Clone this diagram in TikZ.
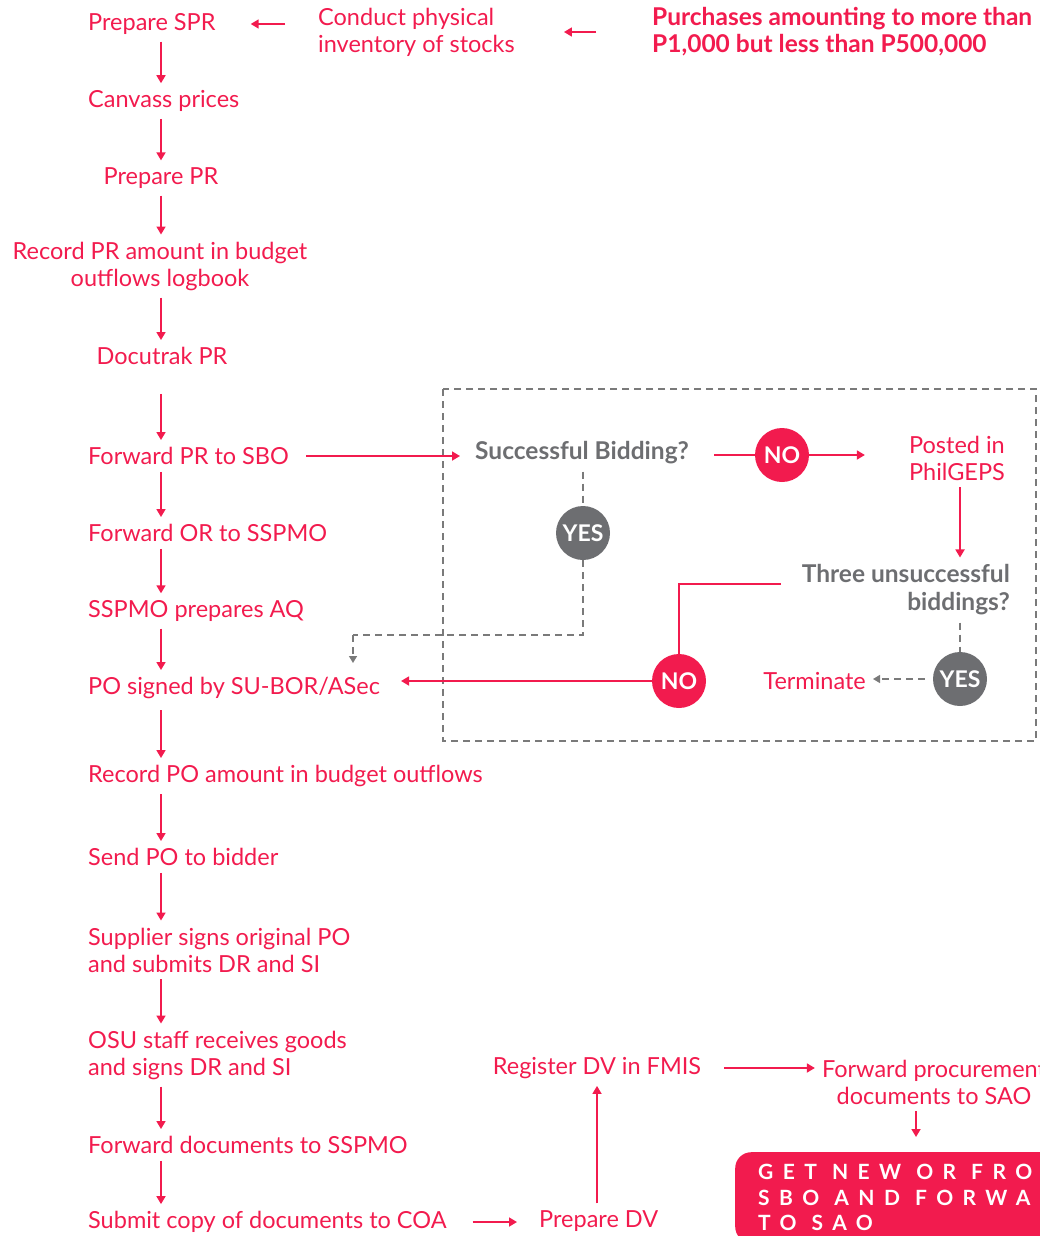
\documentclass[tikz,border=0pt]{standalone}
\usepackage{fontspec}
\setmainfont{Lato}
\usetikzlibrary{positioning,arrows.meta}
\definecolor{crimson}{HTML}{F21B4E}
\definecolor{slate}{HTML}{6D6E71}
\definecolor{dashgray}{HTML}{7A7A7A}
\newcommand{\gap}{\hspace{15pt}}

\begin{document}
\begin{tikzpicture}[x=1pt, y=-1pt,
  every node/.style={font=\fontsize{23.5}{27}\selectfont, inner sep=7pt},
  task/.style={text=crimson, align=left},
  query/.style={text=slate, font=\fontsize{24.5}{28}\selectfont\bfseries, align=right},
  answer/.style={circle, fill=#1, text=white, minimum size=54pt, inner sep=0pt, font=\fontsize{23}{23}\selectfont\bfseries},
  flow/.style={draw=crimson, line width=1.7pt},
  arr/.style={flow, -{Triangle[length=8pt, width=9pt]}},
  dflow/.style={draw=dashgray, line width=1.4pt, dash pattern=on 7pt off 5pt},
  darr/.style={dflow, -{Triangle[length=7pt, width=8pt]}}]

\clip (0,0) rectangle (1040,1236);

% Nodes
\coordinate (spine) at (161,0);
\node (spr) [task, anchor=west] at (81,24) {Prepare SPR};
\node (canvass) [task, anchor=west] at (81,101) {Canvass prices};
\node (preppr) [task] at (161,178) {Prepare PR};
\node (record) [task, align=center] at (160,266) {Record PR amount in budget\\outflows logbook};
\node (docutrak) [task] at (162,356) {Docutrak PR};
\node (fwdsbo) [task, anchor=west] at (81,456) {Forward PR to SBO};
\node (fwdor) [task, anchor=west] at (81,533) {Forward OR to SSPMO};
\node (aq) [task, anchor=west] at (81,611) {SSPMO prepares AQ};
\node (po) [task, anchor=west] at (81,688) {PO signed by SU-BOR/ASec};
\node (recpo) [task, anchor=west] at (81,776) {Record PO amount in budget outflows};
\node (send) [task, anchor=west] at (81,857) {Send PO to bidder};
\node (supplier) [task, anchor=west] at (81,950) {Supplier signs original PO\\and submits DR and SI};
\node (osu) [task, anchor=west] at (81,1055) {OSU staff receives goods\\and signs DR and SI};
\node (fwddocs) [task, anchor=west] at (81,1145) {Forward documents to SSPMO};
\node (coa) [task, anchor=west] at (81,1222) {Submit copy of documents to COA};
\node (prepdv) [task, anchor=west] at (532,1221) {Prepare DV};
\node (regdv) [task] at (597,1068) {Register DV in FMIS};
\node (fwdsao) [task, align=center] at (934,1082) {Forward procurement\\documents to SAO};
\node (getnew) [anchor=north west, fill=crimson, rounded corners=16pt, text=white, align=left,
  text width=420pt, inner xsep=23pt, inner ysep=12pt,
  font=\fontsize{21}{25.5}\selectfont\bfseries\addfontfeature{LetterSpace=45}] at (735,1152)
  {GET\gap NEW\gap OR\gap FROM\\SBO\gap AND\gap FORWARD\\TO\gap SAO};
\node (conduct) [task, anchor=west] at (311,32) {Conduct physical\\inventory of stocks};
\node (purchases) [task, anchor=west, font=\fontsize{24.5}{27}\selectfont\bfseries] at (645,32) {Purchases amounting to more than\\P1,000 but less than P500,000};

% Bidding box
\draw[dflow] (443,389) rectangle (1036,741);
\node (bidding) [query, anchor=west] at (468,453) {Successful Bidding?};
\node (no1) [answer=crimson] at (782,455) {NO};
\node (posted) [task, align=right, anchor=east] at (1012,458) {Posted in\\PhilGEPS};
\node (three) [query, anchor=east] at (1017,590) {Three unsuccessful\\biddings?};
\node (yes1) [answer=slate] at (583,533) {YES};
\node (no2) [answer=crimson] at (679,681) {NO};
\node (yes2) [answer=slate] at (960,679) {YES};
\node (terminate) [task, anchor=east] at (873,681) {Terminate};
\coordinate (bend) at (353,635);

% Arrows
\draw[arr] (spr.south -| spine) -- (canvass.north -| spine);
\draw[arr] (canvass.south -| spine) -- (preppr.north -| spine);
\draw[arr] (preppr.south -| spine) -- (record.north -| spine);
\draw[arr] (record.south -| spine) -- (docutrak.north -| spine);
\draw[arr, shorten <=22pt] (docutrak.south -| spine) -- (fwdsbo.north -| spine);
\draw[arr] (fwdsbo.south -| spine) -- (fwdor.north -| spine);
\draw[arr] (fwdor.south -| spine) -- (aq.north -| spine);
\draw[arr] (aq.south -| spine) -- (po.north -| spine);
\draw[arr, shorten <=4pt] (po.south -| spine) -- (recpo.north -| spine);
\draw[arr] (recpo.south -| spine) -- (send.north -| spine);
\draw[arr] (send.south -| spine) -- (supplier.north -| spine);
\draw[arr] (supplier.south -| spine) -- (osu.north -| spine);
\draw[arr] (osu.south -| spine) -- (fwddocs.north -| spine);
\draw[arr] (fwddocs.south -| spine) -- (coa.north -| spine);
\draw[arr, shorten <=26pt, shorten >=28pt] (conduct.west |- spr.east) -- (spr.east);
\draw[arr, shorten <=49pt, shorten >=42pt] (purchases.west) -- (purchases.west -| conduct.east);
\draw[arr, shorten <=10pt, shorten >=8pt] (fwdsbo.east) -- (fwdsbo.east -| bidding.west);
\draw[flow, shorten <=18pt] (bidding.east |- no1) -- (no1);
\draw[arr, shorten >=37pt] (no1) -- (no1 -| posted.west);
\draw[arr] (posted.south -| yes2) -- (three.north -| yes2);
\draw[flow, shorten <=14pt] ([yshift=6pt]three.west) -| (no2);
\draw[arr, shorten >=14pt] (no2) -- (no2 -| po.east);
\draw[dflow] (bidding.south -| yes1) -- (yes1);
\draw[dflow] (yes1) |- (bend);
\draw[darr, shorten >=7pt] (bend) -- (bend |- po.north);
\draw[dflow] (three.south -| yes2) -- (yes2);
\draw[darr, shorten <=8pt] (yes2) -- (yes2 -| terminate.east);
\draw[arr, shorten <=19pt, shorten >=15pt] (coa.east) -- (coa.east -| prepdv.west);
\draw[arr] (prepdv.north -| regdv) -- (regdv.south);
\draw[arr, shorten <=16pt] (regdv.east) -- (regdv.east -| fwdsao.west);
\draw[arr, shorten >=15pt] (fwdsao.south -| 916,0) -- (getnew.north -| 916,0);
\end{tikzpicture}
\end{document}
